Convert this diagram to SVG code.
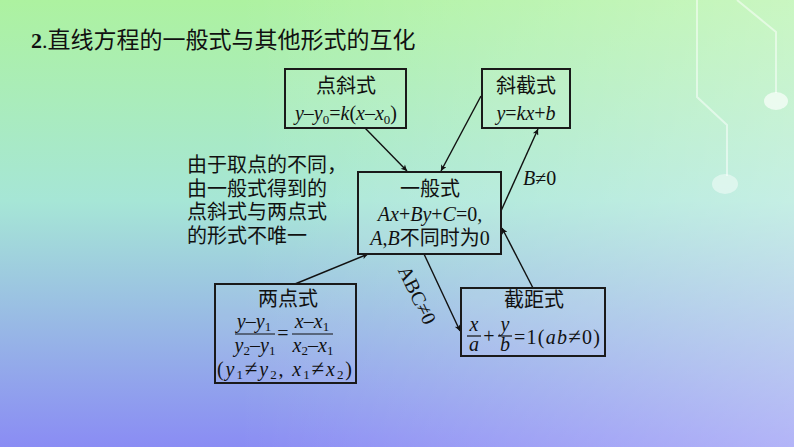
<svg xmlns="http://www.w3.org/2000/svg" width="794" height="447" viewBox="0 0 794 447">
<defs>
<linearGradient id="bg" x1="0" y1="0" x2="0" y2="1">
<stop offset="0" stop-color="#adf2a0"/>
<stop offset="0.45" stop-color="#a6e6d6"/>
<stop offset="1" stop-color="#8a8cf4"/>
</linearGradient>
<linearGradient id="hl" x1="0" y1="0" x2="1" y2="0">
<stop offset="0.3" stop-color="#ffffff" stop-opacity="0"/>
<stop offset="1" stop-color="#ffffff" stop-opacity="0.35"/>
</linearGradient>
<marker id="ah" viewBox="0 0 10 10" refX="10" refY="5" markerWidth="9" markerHeight="6" orient="auto" markerUnits="userSpaceOnUse">
<path d="M0,0 L10,5 L0,10 L2.5,5 z" fill="#111"/>
</marker>
<style>
.box{fill:#ffffff;fill-opacity:0.06;stroke:#1a1a1a;stroke-width:2}
.cn{font-family:"Noto Sans CJK SC","Noto Sans",sans-serif;fill:#111}
.m{font-family:"Liberation Serif",serif;font-size:20px;fill:#111}
.i{font-style:italic}
.sub{font-size:13px;font-style:normal}
.ne{font-size:23px}
.con{stroke:#111;stroke-width:1.4;fill:none;marker-end:url(#ah)}
.bar{stroke:#111;stroke-width:1.2}
.deco{stroke:#ffffff;stroke-opacity:0.5;stroke-width:2;fill:none}
</style>
</defs>
<rect width="794" height="447" fill="url(#bg)"/>
<rect width="794" height="447" fill="url(#hl)"/>
<g id="decoration">
<polyline class="deco" points="737,0 776,32 776,93"/>
<ellipse cx="776" cy="101" rx="12" ry="9" fill="#ffffff" fill-opacity="0.65"/>
<polyline class="deco" points="697,0 697,97 727,125 727,176"/>
<ellipse cx="725" cy="184" rx="13" ry="10" fill="#ffffff" fill-opacity="0.45"/>
</g>
<g id="title">
<text x="31" y="48" class="cn" font-size="23"><tspan font-family="Liberation Serif" font-weight="bold" font-size="22">2</tspan><tspan font-family="Liberation Serif" font-size="22">.</tspan>直线方程的一般式与其他形式的互化</text>
</g>
<g id="note" class="cn" font-size="20">
<text x="187" y="172">由于取点的不同，</text>
<text x="187" y="195.5">由一般式得到的</text>
<text x="187" y="219">点斜式与两点式</text>
<text x="187" y="242.5">的形式不唯一</text>
</g>
<g id="connectors">
<line class="con" x1="365" y1="128" x2="407" y2="171"/>
<line class="con" x1="481" y1="96" x2="441" y2="171"/>
<line class="con" x1="501" y1="211" x2="538" y2="129"/>
<line class="con" x1="295" y1="284" x2="368" y2="254"/>
<line class="con" x1="424" y1="254" x2="460" y2="331"/>
<line class="con" x1="533" y1="288" x2="502" y2="228"/>
<text class="m" x="523" y="185" font-size="19"><tspan class="i">B</tspan>≠0</text>
<text class="m" font-size="18" text-anchor="middle" transform="translate(411,298) rotate(64)">ABC≠0</text>
</g>
<g id="node-dianxie">
<rect class="box" x="285" y="69" width="121" height="59"/>
<text class="cn" x="346" y="93" font-size="20" text-anchor="middle">点斜式</text>
<text class="m" x="346" y="120" text-anchor="middle"><tspan class="i">y</tspan>–<tspan class="i">y</tspan><tspan class="sub" dy="4">0</tspan><tspan dy="-4">=</tspan><tspan class="i">k</tspan>(<tspan class="i">x</tspan>–<tspan class="i">x</tspan><tspan class="sub" dy="4">0</tspan><tspan dy="-4">)</tspan></text>
</g>
<g id="node-xiejie">
<rect class="box" x="482" y="69" width="88" height="59"/>
<text class="cn" x="526" y="93" font-size="20" text-anchor="middle">斜截式</text>
<text class="m" x="526" y="120" text-anchor="middle"><tspan class="i">y</tspan>=<tspan class="i">kx</tspan>+<tspan class="i">b</tspan></text>
</g>
<g id="node-yiban">
<rect class="box" x="358" y="172" width="143" height="82"/>
<text class="cn" x="430" y="196" font-size="20" text-anchor="middle">一般式</text>
<text class="m" x="430" y="221" text-anchor="middle"><tspan class="i">Ax</tspan>+<tspan class="i">By</tspan>+<tspan class="i">C</tspan>=0,</text>
<text class="m" x="430" y="245" text-anchor="middle" font-size="19"><tspan class="i">A</tspan>,<tspan class="i">B</tspan><tspan class="cn">不同时为</tspan>0</text>
</g>
<g id="node-liangdian">
<rect class="box" x="215" y="284" width="141" height="99"/>
<text class="cn" x="288" y="306" font-size="20" text-anchor="middle">两点式</text>
<text class="m" x="254" y="328" text-anchor="middle"><tspan class="i">y</tspan>–<tspan class="i">y</tspan><tspan class="sub" dy="3">1</tspan></text>
<line class="bar" x1="235" y1="334" x2="275" y2="334"/>
<text class="m" x="255" y="352" text-anchor="middle"><tspan class="i">y</tspan><tspan class="sub" dy="3">2</tspan><tspan dy="-3">–</tspan><tspan class="i">y</tspan><tspan class="sub" dy="3">1</tspan></text>
<text class="m" x="283" y="340" text-anchor="middle" font-size="18">=</text>
<text class="m" x="312" y="328" text-anchor="middle"><tspan class="i">x</tspan>–<tspan class="i">x</tspan><tspan class="sub" dy="3">1</tspan></text>
<line class="bar" x1="292" y1="334" x2="333" y2="334"/>
<text class="m" x="313" y="352" text-anchor="middle"><tspan class="i">x</tspan><tspan class="sub" dy="3">2</tspan><tspan dy="-3">–</tspan><tspan class="i">x</tspan><tspan class="sub" dy="3">1</tspan></text>
<text class="m" x="217" y="376" textLength="135" lengthAdjust="spacing">(<tspan class="i">y</tspan><tspan class="sub" dy="3">1</tspan><tspan class="ne" dy="-3">≠</tspan><tspan class="i">y</tspan><tspan class="sub" dy="3">2</tspan><tspan dy="-3">,</tspan> <tspan class="i">x</tspan><tspan class="sub" dy="3">1</tspan><tspan class="ne" dy="-3">≠</tspan><tspan class="i">x</tspan><tspan class="sub" dy="3">2</tspan><tspan dy="-3">)</tspan></text>
</g>
<g id="node-jieju">
<rect class="box" x="461" y="288" width="144" height="68"/>
<text class="cn" x="534" y="307" font-size="20" text-anchor="middle">截距式</text>
<text class="m i" x="474" y="331" text-anchor="middle">x</text>
<line class="bar" x1="467" y1="336" x2="481" y2="336"/>
<text class="m i" x="474" y="351" text-anchor="middle">a</text>
<text class="m" x="489" y="343" text-anchor="middle" font-size="18">+</text>
<text class="m i" x="505" y="331" text-anchor="middle">y</text>
<line class="bar" x1="498" y1="336" x2="512" y2="336"/>
<text class="m i" x="505" y="351" text-anchor="middle">b</text>
<text class="m" x="514" y="344" font-size="21" textLength="86" lengthAdjust="spacing">=1(<tspan class="i">ab</tspan><tspan font-size="23">≠</tspan>0)</text>
</g>
</svg>
